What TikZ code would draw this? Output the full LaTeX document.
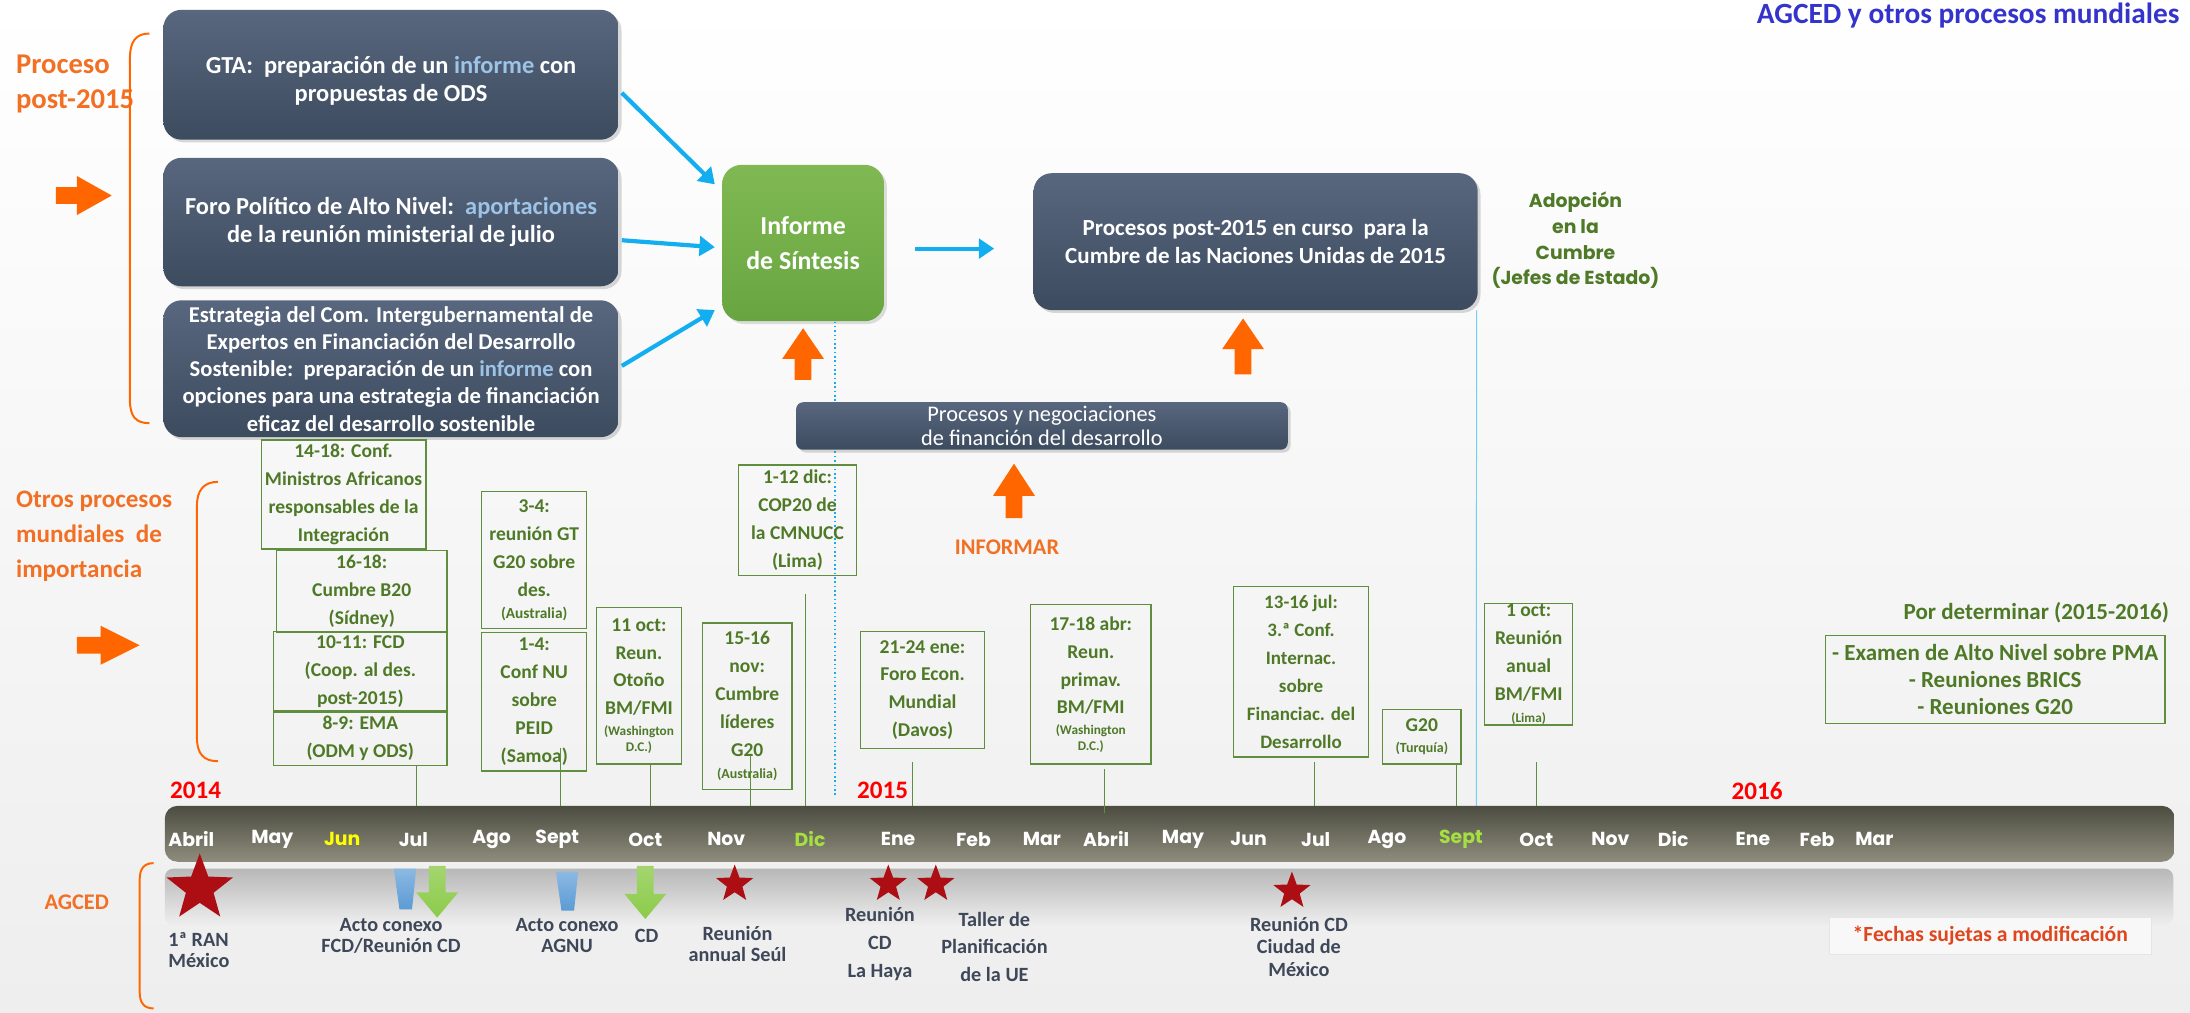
\documentclass[tikz,border=0pt]{standalone}
\usepackage{fontspec}
\setmainfont{Carlito}
\newfontfamily\gothic{Poppins}
\usetikzlibrary{arrows.meta,shapes.geometric,shadows,calc}
\definecolor{slateT}{HTML}{58677E}
\definecolor{slateB}{HTML}{3D4B5F}
\definecolor{lblue}{HTML}{9DC3E6}
\definecolor{cyanA}{HTML}{12AEEF}
\definecolor{orng}{HTML}{FF6600}
\definecolor{orngT}{HTML}{F27024}
\definecolor{gtext}{HTML}{4E7A27}
\definecolor{gborder}{HTML}{5E8E3E}
\definecolor{greenT}{HTML}{80B954}
\definecolor{greenB}{HTML}{68A540}
\definecolor{barT}{HTML}{4C4C41}
\definecolor{barB}{HTML}{8E8D7D}
\definecolor{starred}{HTML}{AC0E14}
\definecolor{agtext}{HTML}{3F4859}
\definecolor{titleblue}{HTML}{3434CC}
\definecolor{bgB}{HTML}{EEEEEE}
\definecolor{yearred}{HTML}{FF0000}
\definecolor{dicgreen}{HTML}{A6E040}
\definecolor{junyel}{HTML}{FFFF00}
\definecolor{trapblue}{HTML}{5B9BD5}
\definecolor{arrgreen}{HTML}{8CCB4A}
\definecolor{fechas}{HTML}{E0461E}
\newcommand\myfs[2]{\fontsize{#1}{#2}\selectfont}
\newcommand\lb[1]{\textcolor{lblue}{#1}}
\tikzset{
  slate/.style={rounded corners=13pt, top color=slateT, bottom color=slateB, draw=none,
    text=white, align=center, inner sep=1pt,
    drop shadow={opacity=0.3, shadow xshift=2pt, shadow yshift=-2pt}},
  gbox/.style={draw=gborder, line width=0.9pt, text=gtext, align=center, inner sep=0pt,
    font=\myfs{14}{20}\bfseries},
  conn/.style={draw=gborder, line width=0.7pt},
  barrow/.style={draw=cyanA, line width=3pt, -{Triangle[length=11pt,width=14pt]}},
  month/.style={font=\gothic\myfs{13.5}{15}\bfseries},
  year/.style={text=yearred, font=\myfs{18}{20}\bfseries},
  aglab/.style={text=agtext, align=center, font=\myfs{14.5}{15}\bfseries},
  olab/.style={text=orngT, align=left, font=\myfs{18}{25}\bfseries},
  brace/.style={draw=orng, line width=1.4pt},
  bigstar/.style={star, star points=5, star point ratio=2.4, fill=starred, draw=none, inner sep=0pt},
}
\begin{document}
\begin{tikzpicture}[x=1pt,y=-1pt]
\useasboundingbox (0,0) rectangle (1568,725);
\shade[top color=white, bottom color=bgB] (0,0) rectangle (1568,725);

% title
\node[anchor=east, text=titleblue, font=\myfs{21}{24}\bfseries] (title) at (1564,11) {AGCED y otros procesos mundiales};

% left labels and braces
\node[olab, anchor=west, font=\myfs{20.5}{25}\bfseries] (lproc) at (8,60) {Proceso\\post-2015};
\draw[brace] (107,24) .. controls (97,24) and (93,30) .. (93,42) -- (93,286) .. controls (93,298) and (97,303) .. (107,303);
\fill[orng] (40,134)--(55,134)--(55,126)--(80,140)--(55,154)--(55,146)--(40,146)--cycle;

\node[olab, anchor=west] (lotros) at (8,384) {Otros procesos\\mundiales\ \ de\\importancia};
\draw[brace] (156,345) .. controls (146,345) and (141,351) .. (141,362) -- (141,528) .. controls (141,540) and (146,545) .. (156,545);
\fill[orng] (55,456)--(72,456)--(72,448)--(100,462)--(72,476)--(72,468)--(55,468)--cycle;

\node[olab, anchor=center, font=\myfs{16}{20}\bfseries] (lagced) at (55,646) {AGCED};
\draw[brace] (110,618) .. controls (103,618) and (100,622) .. (100,630) -- (100,710) .. controls (100,718) and (103,722) .. (110,722);

% top process boxes
\node[slate, minimum width=326pt, minimum height=93pt, font=\myfs{17.5}{20}\bfseries] (b1) at (280,53.5)
  {\rule{0pt}{21pt}GTA:\ \ preparación de un \lb{informe} con\\propuestas de ODS};
\node[slate, minimum width=326pt, minimum height=92pt, font=\myfs{17.5}{20}\bfseries] (b2) at (280,159)
  {Foro Político de Alto Nivel:\ \ \lb{aportaciones}\\de la reunión ministerial de julio};
\node[slate, minimum width=326pt, minimum height=98pt, font=\myfs{16.2}{19.5}\bfseries] (b3) at (280,264)
  {Estrategia del Com. Intergubernamental de\\Expertos en Financiación del Desarrollo\\Sostenible:\ \ preparación de un \lb{informe} con\\opciones para una estrategia de financiación\\eficaz del desarrollo sostenible};

\node[rounded corners=14pt, top color=greenT, bottom color=greenB, text=white, align=center,
  minimum width=116pt, minimum height=112pt, font=\myfs{18.5}{25}\bfseries,
  drop shadow={opacity=0.25, shadow xshift=2pt, shadow yshift=-2pt}] (sint) at (575,174) {Informe\\de Síntesis};

\node[slate, minimum width=318pt, minimum height=98pt, font=\myfs{16.5}{20}\bfseries] (b4) at (899,173)
  {Procesos post-2015 en curso\ \ para la\\Cumbre de las Naciones Unidas de 2015};

\node[text=gtext, align=center, font=\gothic\myfs{13.5}{18.5}\bfseries] (adop) at (1128,172) {Adopción\\en la\\Cumbre\\(Jefes de Estado)};

% blue arrows
\draw[barrow] ($(b1.east)+(2,13)$) -- ($(sint.west)+(-5,-42)$);
\draw[barrow] ($(b2.east)+(2,13)$) -- ($(sint.west)+(-5,3)$);
\draw[barrow] ($(b3.east)+(2,-2)$) -- ($(sint.west)+(-5,48)$);
\draw[barrow] ($(sint.east)+(22,4)$) -- ($(b4.west)+(-28,5)$);

% vertical guide lines
\coordinate (dotend) at (598,570);
\draw[cyanA, line width=1.1pt, dotted] ($(sint.south)+(23,0)$) -- (dotend);
\coordinate (sepend) at (1057,582);
\draw[cyanA!60, line width=0.7pt] ($(b4.south east)+(-1,0)$) -- (sepend);

% orange up arrows
\fill[orng] (575,235)--(590,257)--(581,257)--(581,272)--(569,272)--(569,257)--(560,257)--cycle;
\fill[orng] (890,228)--(905,250)--(896,250)--(896,268)--(884,268)--(884,250)--(875,250)--cycle;
\fill[orng] (726,332)--(741,355)--(732,355)--(732,371)--(720,371)--(720,355)--(711,355)--cycle;

% financing box
\node[slate, rounded corners=5pt, minimum width=352pt, minimum height=34pt, font=\myfs{16}{17}] (pn) at (746,305)
  {Procesos y negociaciones\\de financión del desarrollo};
\node[text=orngT, font=\myfs{16}{18}\bfseries] (inf) at (721,392) {INFORMAR};

% green event boxes
\node[gbox, minimum width=118pt, minimum height=78pt] (g1) at (246,354) {14-18: Conf.\\Ministros Africanos\\responsables de la\\Integración};
\node[gbox, minimum width=122pt, minimum height=59pt] (g2) at (259,423.5) {16-18:\\Cumbre B20\\(Sídney)};
\node[gbox, minimum width=124pt, minimum height=58pt] (g3) at (258,481) {10-11: FCD\\(Coop. al des.\\post-2015)};
\node[gbox, minimum width=124pt, minimum height=39pt] (g4) at (258,528.5) {8-9: EMA\\(ODM y ODS)};
\node[gbox, minimum width=75pt, minimum height=98pt] (g5) at (382.5,401) {3-4:\\reunión GT\\G20 sobre\\des.\\[-4pt]{\myfs{11}{12}(Australia)}};
\node[gbox, minimum width=75pt, minimum height=99pt] (g6) at (382.5,502.5) {1-4:\\Conf NU\\sobre\\PEID\\(Samoa)};
\node[gbox, minimum width=61pt, minimum height=112pt] (g7) at (457.5,491) {11 oct:\\Reun.\\Otoño\\BM/FMI\\[-5pt]{\myfs{9.5}{10}(Washington}\\[-9pt]{\myfs{9.5}{10}D.C.)}};
\node[gbox, minimum width=84pt, minimum height=79pt] (g8) at (571,372.5) {1-12 dic:\\COP20 de\\la CMNUCC\\(Lima)};
\node[gbox, minimum width=64pt, minimum height=119pt] (g9) at (535,505.5) {15-16\\nov:\\Cumbre\\líderes\\G20\\[-4pt]{\myfs{10}{11}(Australia)}};
\node[gbox, minimum width=89pt, minimum height=84pt] (g10) at (660.5,494) {21-24 ene:\\Foro Econ.\\Mundial\\(Davos)};
\node[gbox, minimum width=86pt, minimum height=114pt] (g11) at (781,490) {17-18 abr:\\Reun.\\primav.\\BM/FMI\\[-5pt]{\myfs{9.5}{10}(Washington}\\[-9pt]{\myfs{9.5}{10}D.C.)}};
\node[gbox, minimum width=97pt, minimum height=122pt, font=\myfs{13.6}{20}\bfseries] (g12) at (931.5,481) {13-16 jul:\\3.ª Conf.\\Internac.\\sobre\\Financiac. del\\Desarrollo};
\node[gbox, minimum width=56pt, minimum height=39pt] (g13) at (1018,527.5) {G20\\[-5pt]{\myfs{10}{11}(Turquía)}};
\node[gbox, minimum width=63pt, minimum height=87pt] (g14) at (1094.5,475.5) {1 oct:\\Reunión\\anual\\BM/FMI\\[-4pt]{\myfs{9.5}{10}(Lima)}};
\node[text=gtext, font=\myfs{16.5}{18}\bfseries] (pordet) at (1458,439) {Por determinar (2015-2016)};
\node[gbox, minimum width=243pt, minimum height=63pt, font=\myfs{16.5}{19.5}\bfseries] (g15) at (1428.5,486.5) {- Examen de Alto Nivel sobre PMA\\- Reuniones BRICS\\- Reuniones G20};

% timeline bar
\node[rounded corners=9pt, top color=barT, bottom color=barB, draw=none,
  minimum width=1439pt, minimum height=40pt] (bar) at (837.5,597) {};
\shade[top color=black!28, bottom color=bgB, rounded corners=6pt] (118,622) rectangle (1556,662);

\node[year] (y14) at (140,566) {2014};
\node[year] (y15) at (632,566) {2015};
\node[year] (y16) at (1258,566) {2016};

\foreach \m/\x/\c in {Abril/137/white, May/195/white, Jun/245/junyel, Jul/296/white, Ago/352/white,
  Sept/399/white, Oct/462/white, Nov/520/white, Dic/580/dicgreen, Ene/643/white, Feb/697/white,
  Mar/746/white, Abril/792/white, May/847/white, Jun/894/white, Jul/942/white, Ago/993/white,
  Sept/1046/dicgreen, Oct/1100/white, Nov/1153/white, Dic/1198/white, Ene/1255/white, Feb/1301/white, Mar/1342/white}
  \node[month, text=\c] (m\x) at (\x,601) {\m};

% connectors from events to the bar
\draw[conn] ([xshift=40pt]g4.south) -- ([xshift=40pt]g4.south |- bar.north);
\draw[conn] ([xshift=18.5pt,yshift=17pt]g6.south) -- ([xshift=18.5pt]g6.south |- bar.north);
\draw[conn] ([xshift=8.5pt]g7.south) -- ([xshift=8.5pt]g7.south |- bar.north);
\draw[conn] ([xshift=2pt,yshift=25pt]g9.south) -- ([xshift=2pt]g9.south |- bar.north);
\coordinate (dictop) at (577,425);
\draw[conn] (dictop) -- (dictop |- bar.north);
\draw[conn] ([xshift=-7.5pt,yshift=-9pt]g10.south) -- ([xshift=-7.5pt]g10.south |- bar.north);
\draw[conn] ([xshift=10pt,yshift=-3pt]g11.south) -- ([xshift=10pt,yshift=-5pt]g11.south |- bar.north);
\draw[conn] ([xshift=9.5pt,yshift=-3pt]g12.south) -- ([xshift=9.5pt]g12.south |- bar.north);
\draw[conn] ([xshift=25pt]g13.south) -- ([xshift=25pt]g13.south |- bar.north);
\draw[conn] ([xshift=5.5pt,yshift=-26pt]g14.south) -- ([xshift=5.5pt]g14.south |- bar.north);

% AGCED events
\node[bigstar, minimum size=50pt] (s1) at (143,636) {};
\node[bigstar, minimum size=28pt] (s2) at (526,633) {};
\node[bigstar, minimum size=28pt] (s3) at (636,633) {};
\node[bigstar, minimum size=28pt] (s4) at (670,633) {};
\node[bigstar, minimum size=28pt] (s5) at (925,638) {};

\shade[top color=trapblue!70!white, bottom color=trapblue] (282,622) -- (298,622) -- (295,651) -- (286,651) -- cycle;
\shade[top color=trapblue!70!white, bottom color=trapblue] (398,624) -- (414,624) -- (411,652) -- (402,652) -- cycle;
\shade[top color=arrgreen!80!white, bottom color=arrgreen] (307,620) -- (319,620) -- (319,639) -- (328,639) -- (313,657) -- (298,639) -- (307,639) -- cycle;
\shade[top color=arrgreen!80!white, bottom color=arrgreen] (456,620) -- (468,620) -- (468,640) -- (477,640) -- (462,658) -- (447,640) -- (456,640) -- cycle;

\node[aglab, anchor=west, align=left] (l1) at (117,680) {1ª RAN\\México};
\node[aglab] (l2) at (280,670) {Acto conexo\\FCD/Reunión CD};
\node[aglab] (l3) at (406,670) {Acto conexo\\AGNU};
\node[aglab] (l4) at (463,670) {CD};
\node[aglab] (l5) at (528,676) {Reunión\\annual Seúl};
\node[aglab, font=\myfs{14.5}{20}\bfseries] (l6) at (630,676) {Reunión\\CD\\La Haya};
\node[aglab, font=\myfs{14.5}{20}\bfseries] (l7) at (712,678) {Taller de\\Planificación\\de la UE};
\node[aglab, font=\myfs{14.5}{16}\bfseries] (l8) at (930,678) {Reunión CD\\Ciudad de\\México};

\node[draw=black!10, fill=white!60!bgB, minimum width=230pt, minimum height=27pt,
  text=fechas, font=\myfs{15.5}{17}\bfseries] (fech) at (1425,670) {*Fechas sujetas a modificación};
\end{tikzpicture}
\end{document}
